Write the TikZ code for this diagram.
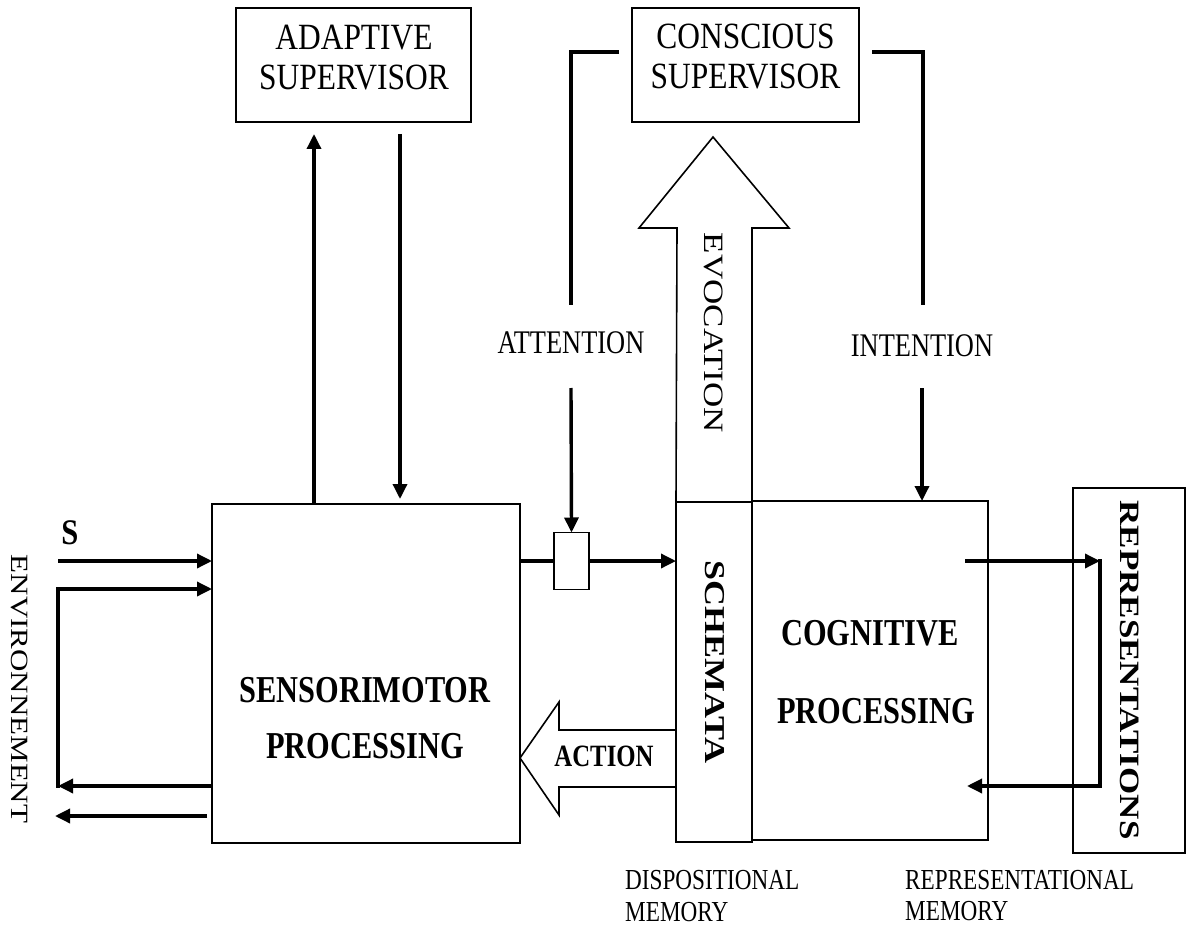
\documentclass[tikz,border=0pt]{standalone}
\usepackage{fontspec}
\setmainfont{Liberation Serif}
\usetikzlibrary{arrows.meta}
\newcommand{\hsq}[2][0.8]{\scalebox{#1}[1]{#2}}
\newcommand{\vsq}[1]{\scalebox{1}[0.8]{#1}}
\begin{document}
\begin{tikzpicture}[x=1pt,y=-1pt,
  box/.style={draw, line width=1.7pt, inner sep=0pt, outer sep=0pt},
  shp/.style={draw, line width=1.6pt, line join=miter},
  arr/.style={line width=3.4pt, -{Triangle[length=15pt,width=14pt]}},
  ln/.style={line width=3.4pt},
  txt/.style={inner sep=0pt, font=\fontsize{37}{40}\selectfont},
  btxt/.style={inner sep=0pt, font=\fontsize{38}{44}\selectfont\bfseries},
  stxt/.style={inner sep=0pt, font=\fontsize{29}{34}\selectfont, anchor=west}]
\useasboundingbox (0,0) rectangle (1186,928);

% boxes
\node[box, minimum width=235pt, minimum height=114pt] (ads) at (353.5,65) {};
\node[box, minimum width=227pt, minimum height=114pt] (cons) at (745.5,65) {};
\node[box, minimum width=308pt, minimum height=339pt] (sm) at (366,673.5) {};
\node[box, minimum width=76pt, minimum height=340pt] (sch) at (714,672) {};
\node[box, minimum width=236pt, minimum height=339pt] (cog) at (870,670.5) {};
\node[box, minimum width=112pt, minimum height=365pt] (rep) at (1129,670.5) {};
\node[box, minimum width=35pt, minimum height=57pt] (gate) at (571.5,561) {};

% box texts
\node[txt] (adst) at (354,62) {\hsq[0.85]{\begin{tabular}{@{}c@{}}ADAPTIVE\\SUPERVISOR\end{tabular}}};
\node[txt] (const) at (745.5,61) {\hsq[0.85]{\begin{tabular}{@{}c@{}}CONSCIOUS\\SUPERVISOR\end{tabular}}};
\node[btxt] (sm1) at (365,690) {\hsq{SENSORIMOTOR}};
\node[btxt] (sm2) at (365,746) {\hsq{PROCESSING}};
\node[btxt] (cg1) at (870,633) {\hsq{COGNITIVE}};
\node[btxt] (cg2) at (876,711) {\hsq{PROCESSING}};
\node[inner sep=0pt, font=\fontsize{36}{40}\selectfont\bfseries, rotate=-90] (scht) at (715,662) {\vsq{SCHEMATA}};
\node[inner sep=0pt, font=\fontsize{35}{40}\selectfont\bfseries, rotate=-90] (rept) at (1130,670) {\vsq{REPRESENTATIONS}};
\node[inner sep=0pt, font=\fontsize{31}{40}\selectfont, rotate=-90] (env) at (20,689) {\vsq{ENVIRONNEMENT}};
\node[inner sep=0pt, font=\fontsize{36}{40}\selectfont\bfseries] (s) at (70,533) {\hsq[0.85]{S}};

% labels
\node[txt, font=\fontsize{33}{40}\selectfont] (attn) at (571,343) {\hsq{ATTENTION}};
\node[txt, font=\fontsize{33}{40}\selectfont] (intn) at (922,346) {\hsq{INTENTION}};
\node[stxt] (dm1) at (625,880) {\hsq{DISPOSITIONAL}};
\node[stxt] (dm2) at (625,912) {\hsq{MEMORY}};
\node[stxt] (rm1) at (905,880) {\hsq{REPRESENTATIONAL}};
\node[stxt] (rm2) at (905,911) {\hsq{MEMORY}};

% evocation arrow
\draw[shp] (sch.north west) -- (677,228) -- (639,228) -- (713,137) -- (789,228) -- (752,228) -- (sch.north east);
\node[inner sep=0pt, font=\fontsize{35}{40}\selectfont, rotate=-90] (evo) at (714,333) {\vsq{EVOCATION}};

% action arrow
\draw[shp] (sch.west |- 0,730) -- (559,730) -- (559,702) -- (520,758) -- (559,815) -- (559,787) -- (sch.west |- 0,787);
\node[inner sep=0pt, font=\fontsize{31}{40}\selectfont\bfseries] (act) at (604,756) {\hsq{ACTION}};

% adaptive supervisor arrows
\coordinate (up1) at (314,134);
\coordinate (dn1) at (400,134);
\draw[arr] (sm.north -| up1) -- (up1);
\draw[arr] (dn1) -- ([yshift=5pt]sm.north -| dn1);

% attention
\coordinate (at0) at (619,52);
\coordinate (at1) at (571,52);
\coordinate (at2) at (571,305);
\coordinate (at3) at (571,388);
\draw[ln] (at0) -- (at1) -- (at2);
\draw[arr] (at3) -- (gate.north);
\draw[ln] (sm.east |- gate.west) -- (gate.west);
\draw[arr] (gate.east) -- (sch.west |- gate.east);

% intention
\coordinate (in0) at (872,52);
\coordinate (in1) at (923,52);
\coordinate (in2) at (923,305);
\coordinate (in3) at (922,388);
\draw[ln] (in0) -- (in1) -- (in2);
\draw[arr] (in3) -- (cog.north -| in3);

% cognitive <-> representations
\coordinate (r0) at (965,561);
\coordinate (r1) at (1100,561);
\coordinate (r2) at (1100,786);
\coordinate (r3) at (967,786);
\draw[arr] (r0) -- (r1);
\draw[arr, shorten <=-1.7pt] (r1) -- (r2) -- (r3);

% environment
\coordinate (e1) at (58,561);
\coordinate (e2) at (58,589);
\coordinate (e3) at (58,786);
\coordinate (e4) at (55,816);
\draw[arr] (e1) -- (sm.west |- e1);
\draw[arr] (sm.west |- e3) -- (e3);
\draw[arr, shorten <=-1.7pt] (e3) -- (e2) -- (sm.west |- e2);
\draw[arr] ([xshift=-5pt]sm.west |- e4) -- (e4);
\end{tikzpicture}
\end{document}
